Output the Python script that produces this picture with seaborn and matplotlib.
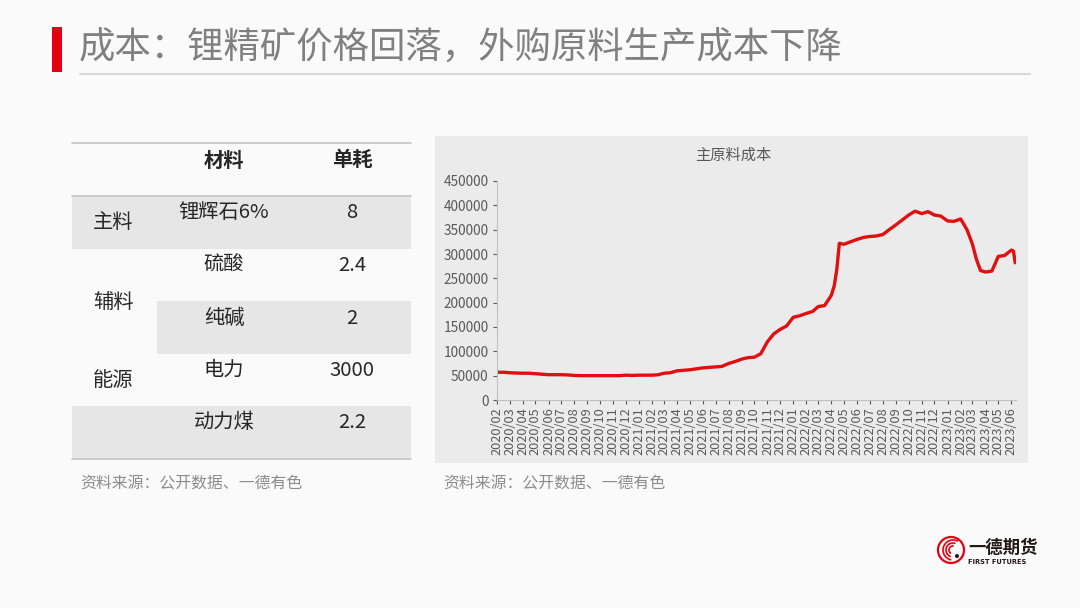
import matplotlib
matplotlib.use("Agg")
import matplotlib.pyplot as plt
import matplotlib.dates as mdates
from matplotlib.patches import Rectangle, Circle, Arc
import seaborn as sns
import pandas as pd
import numpy as np

# ---------------- data ----------------
dates = [
    "2020-02-01", "2020-02-16", "2020-03-01", "2020-03-16", "2020-04-01", "2020-04-16",
    "2020-05-01", "2020-05-16", "2020-06-01", "2020-06-16", "2020-07-01", "2020-07-16",
    "2020-08-01", "2020-08-16", "2020-09-01", "2020-09-16", "2020-10-01", "2020-10-16",
    "2020-11-01", "2020-11-16", "2020-12-01", "2020-12-16", "2021-01-01", "2021-01-16",
    "2021-02-01", "2021-02-16", "2021-03-01", "2021-03-16", "2021-04-01", "2021-04-16",
    "2021-05-01", "2021-05-16", "2021-06-01", "2021-06-16", "2021-07-01", "2021-07-16",
    "2021-08-01", "2021-08-16", "2021-09-01", "2021-09-16", "2021-10-01", "2021-10-16",
    "2021-11-01", "2021-11-16", "2021-12-01", "2021-12-16", "2022-01-01", "2022-01-16",
    "2022-02-01", "2022-02-16", "2022-03-01", "2022-03-16", "2022-04-01", "2022-04-08",
    "2022-04-14", "2022-04-20", "2022-05-01", "2022-05-16", "2022-06-01", "2022-06-16",
    "2022-07-01", "2022-07-16", "2022-08-01", "2022-08-16", "2022-09-01", "2022-09-16",
    "2022-10-01", "2022-10-16", "2022-11-01", "2022-11-16", "2022-12-01", "2022-12-16",
    "2023-01-01", "2023-01-16", "2023-02-01", "2023-02-16", "2023-03-01", "2023-03-10",
    "2023-03-20", "2023-04-01", "2023-04-16", "2023-05-01", "2023-05-16", "2023-06-01",
    "2023-06-06", "2023-06-10",
]
cost = [
    57000, 57000, 56000, 55500, 55000, 55000,
    54000, 53000, 52000, 52000, 52000, 51500,
    50500, 50000, 50000, 50000, 50000, 50000,
    50000, 50000, 51000, 50500, 51000, 51000,
    51000, 52000, 55000, 56000, 60000, 61000,
    62000, 64000, 66000, 67000, 68000, 69000,
    75000, 79000, 84000, 87000, 88000, 95000,
    120000, 136000, 145000, 152000, 170000, 173000,
    178000, 182000, 192000, 194000, 215000, 235000,
    268000, 322000, 320000, 325000, 330000, 334000,
    336000, 337000, 340000, 350000, 360000, 370000,
    380000, 388000, 383000, 387000, 380000, 378000,
    368000, 367000, 372000, 350000, 320000, 290000,
    266000, 263000, 265000, 295000, 297000, 308000,
    306000, 282000,
]

title_text = "成本：锂精矿价格回落，外购原料生产成本下降"
chart_title = "主原料成本"
source_text = "资料来源：公开数据、一德有色"
table_header = ["材料", "单耗"]
table_groups = ["主料", "辅料", "能源"]
materials = ["锂辉石6%", "硫酸", "纯碱", "电力", "动力煤"]
consumption = ["8", "2.4", "2", "3000", "2.2"]

# ---------------- style ----------------
sns.set_style("white")
plt.rcParams["font.family"] = ["Noto Sans CJK SC", "DejaVu Sans"]

W, H = 1080, 608
fig = plt.figure(figsize=(W / 100, H / 100), dpi=100)
fig.patch.set_facecolor("#FAFAFA")

# overlay axes in pixel coordinates
bg = fig.add_axes([0, 0, 1, 1])
bg.set_xlim(0, W)
bg.set_ylim(H, 0)
bg.axis("off")
bg.set_zorder(0)

# title
bg.add_patch(Rectangle((52, 27), 10, 45, color="#E60012", lw=0))
bg.text(79, 49, title_text, fontsize=26.2, color="#808080", va="center", ha="left")
bg.plot([80, 1030], [73.5, 73.5], color="#D9D9D9", lw=1.5)

# table
tx0, tx1 = 72, 411
row_edges = [143, 196, 248.5, 301, 353.5, 406, 459]
gray = "#E6E6E6"
bg.add_patch(Rectangle((tx0, row_edges[1]), tx1 - tx0, row_edges[2] - row_edges[1], color=gray, lw=0))
bg.add_patch(Rectangle((157, row_edges[3]), tx1 - 157, row_edges[4] - row_edges[3], color=gray, lw=0))
bg.add_patch(Rectangle((tx0, row_edges[5]), tx1 - tx0, row_edges[6] - row_edges[5], color=gray, lw=0))
for yy in (143, 196, 459):
    bg.plot([tx0, tx1], [yy, yy], color="#C8C8C8", lw=1.3)

txt_col = "#262626"
fs_tab = 14.6
col2_x, col3_x, col1_x = 224, 352, 113
bg.text(col2_x, 160, table_header[0], fontsize=fs_tab, fontweight="bold", color=txt_col, ha="center", va="center")
bg.text(col3_x, 160, table_header[1], fontsize=fs_tab, fontweight="bold", color=txt_col, ha="center", va="center")
row_text_y = [212, 265.5, 318, 370.5, 423]
for m, c, yy in zip(materials, consumption, row_text_y):
    bg.text(col2_x, yy, m, fontsize=fs_tab, color=txt_col, ha="center", va="center")
    bg.text(col3_x, yy, c, fontsize=fs_tab, color=txt_col, ha="center", va="center")
for g, yy in zip(table_groups, [223, 302, 381]):
    bg.text(col1_x, yy, g, fontsize=fs_tab, color=txt_col, ha="center", va="center")

# chart panel
bg.add_patch(Rectangle((435, 136), 593, 327, color="#EBEBEB", lw=0))

# source notes
bg.text(80, 484, source_text, fontsize=11.4, color="#8C8C8C", ha="left", va="center")
bg.text(443, 484, source_text, fontsize=11.4, color="#8C8C8C", ha="left", va="center")

# logo
bg.add_patch(Circle((951, 550), 13, fill=False, ec="#E60012", lw=1.6))
for r, a1, a2 in [(10, 100, 300), (7, 110, 290), (4, 120, 280)]:
    bg.add_patch(Arc((953, 550), 2 * r, 2 * r, theta1=a1, theta2=a2, color="#E60012", lw=1.2))
bg.add_patch(Circle((957, 556), 2, color="#231815", lw=0))
bg.text(968, 548, "一德期货", fontsize=12.5, fontweight="bold", color="#231815", ha="left", va="center")
bg.text(968, 561.5, "FIRST FUTURES", fontsize=4.8, fontweight="bold", color="#231815", ha="left", va="center",
        family="DejaVu Sans")

# chart axes
ax = fig.add_axes([497 / W, 1 - 400 / H, (1016 - 497) / W, (400 - 181) / H])
ax.set_zorder(2)
ax.patch.set_alpha(0)

df = pd.DataFrame({"date": pd.to_datetime(dates), "cost": cost})
sns.lineplot(data=df, x="date", y="cost", ax=ax, color="#E01010", lw=2.4)

ax.set_ylim(0, 450000)
ax.set_yticks(np.arange(0, 450001, 50000))
ax.set_xlim(pd.Timestamp("2020-01-31"), pd.Timestamp("2023-06-12"))
ax.xaxis.set_major_locator(mdates.MonthLocator())
ax.xaxis.set_major_formatter(mdates.DateFormatter("%Y/%m"))
ax.set_xlabel("")
ax.set_ylabel("")
ax.tick_params(axis="x", labelrotation=90, labelsize=9.2, colors="#595959", length=3, width=0.8,
               direction="out", pad=2, bottom=True)
ax.tick_params(axis="y", labelsize=9.8, colors="#595959", length=3, width=0.8, direction="out",
               pad=3, left=True)
for lab in ax.get_xticklabels() + ax.get_yticklabels():
    lab.set_color("#595959")
for s in ["top", "right"]:
    ax.spines[s].set_visible(False)
for s in ["left", "bottom"]:
    ax.spines[s].set_color("#BFBFBF")
    ax.spines[s].set_linewidth(0.8)
ax.grid(False)

bg.text(733, 155, chart_title, fontsize=11, color="#595959", ha="center", va="center")

fig.savefig("out.png", dpi=100, facecolor=fig.get_facecolor())
